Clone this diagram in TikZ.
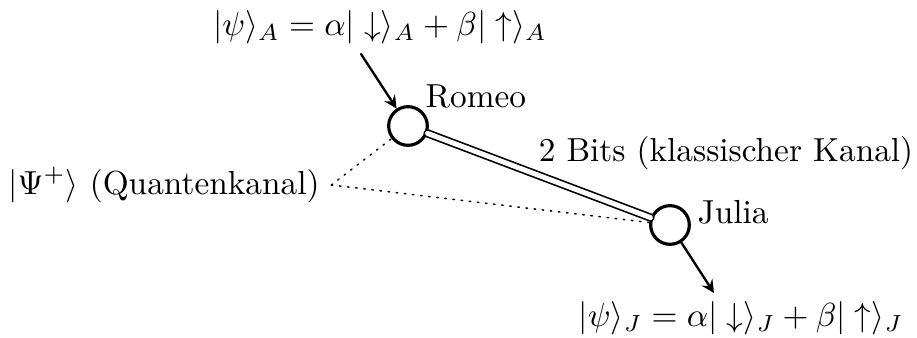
\documentclass[tikz,border=0pt]{standalone}
\usepackage{amsmath}
\begin{document}
\begin{tikzpicture}[x=0.3pt,y=0.3pt,line cap=round,line join=round,>=stealth]
  \tikzset{
    party/.style={circle,draw,line width=0.95pt,minimum size=11.6pt,inner sep=0pt},
    qline/.style={dotted,line width=0.45pt}
  }
  \useasboundingbox (0,0) rectangle (917,338);
  \node[party] (romeo) at (408,212) {};
  \node[party] (julia) at (670,113) {};
  \node[anchor=base west,inner sep=0pt] (romeolbl) at (425,230) {Romeo};
  \node[anchor=base west,inner sep=0pt] (julialbl) at (697,114) {Julia};
  \node (bits) at (726,185) {2 Bits (klassischer Kanal)};
  \node (quant) at (164,153) {$|\Psi^+\rangle$ (Quantenkanal)};
  \node (stateA) at (380,311) {$|\psi\rangle_A = \alpha|\downarrow\rangle_A + \beta|\uparrow\rangle_A$};
  \node (stateJ) at (741,20) {$|\psi\rangle_J = \alpha|\downarrow\rangle_J + \beta|\uparrow\rangle_J$};
  \coordinate (inA) at (361,284);
  \coordinate (outJ) at (714,45);
  \draw[double,double distance=1.5pt,line width=0.5pt] (romeo) -- (julia);
  \draw[qline] (quant.east) -- (romeo);
  \draw[qline] (quant.east) -- (julia);
  \draw[line width=0.7pt,->] (inA) -- (romeo);
  \draw[line width=0.7pt,->] (julia) -- (outJ);
\end{tikzpicture}
\end{document}
